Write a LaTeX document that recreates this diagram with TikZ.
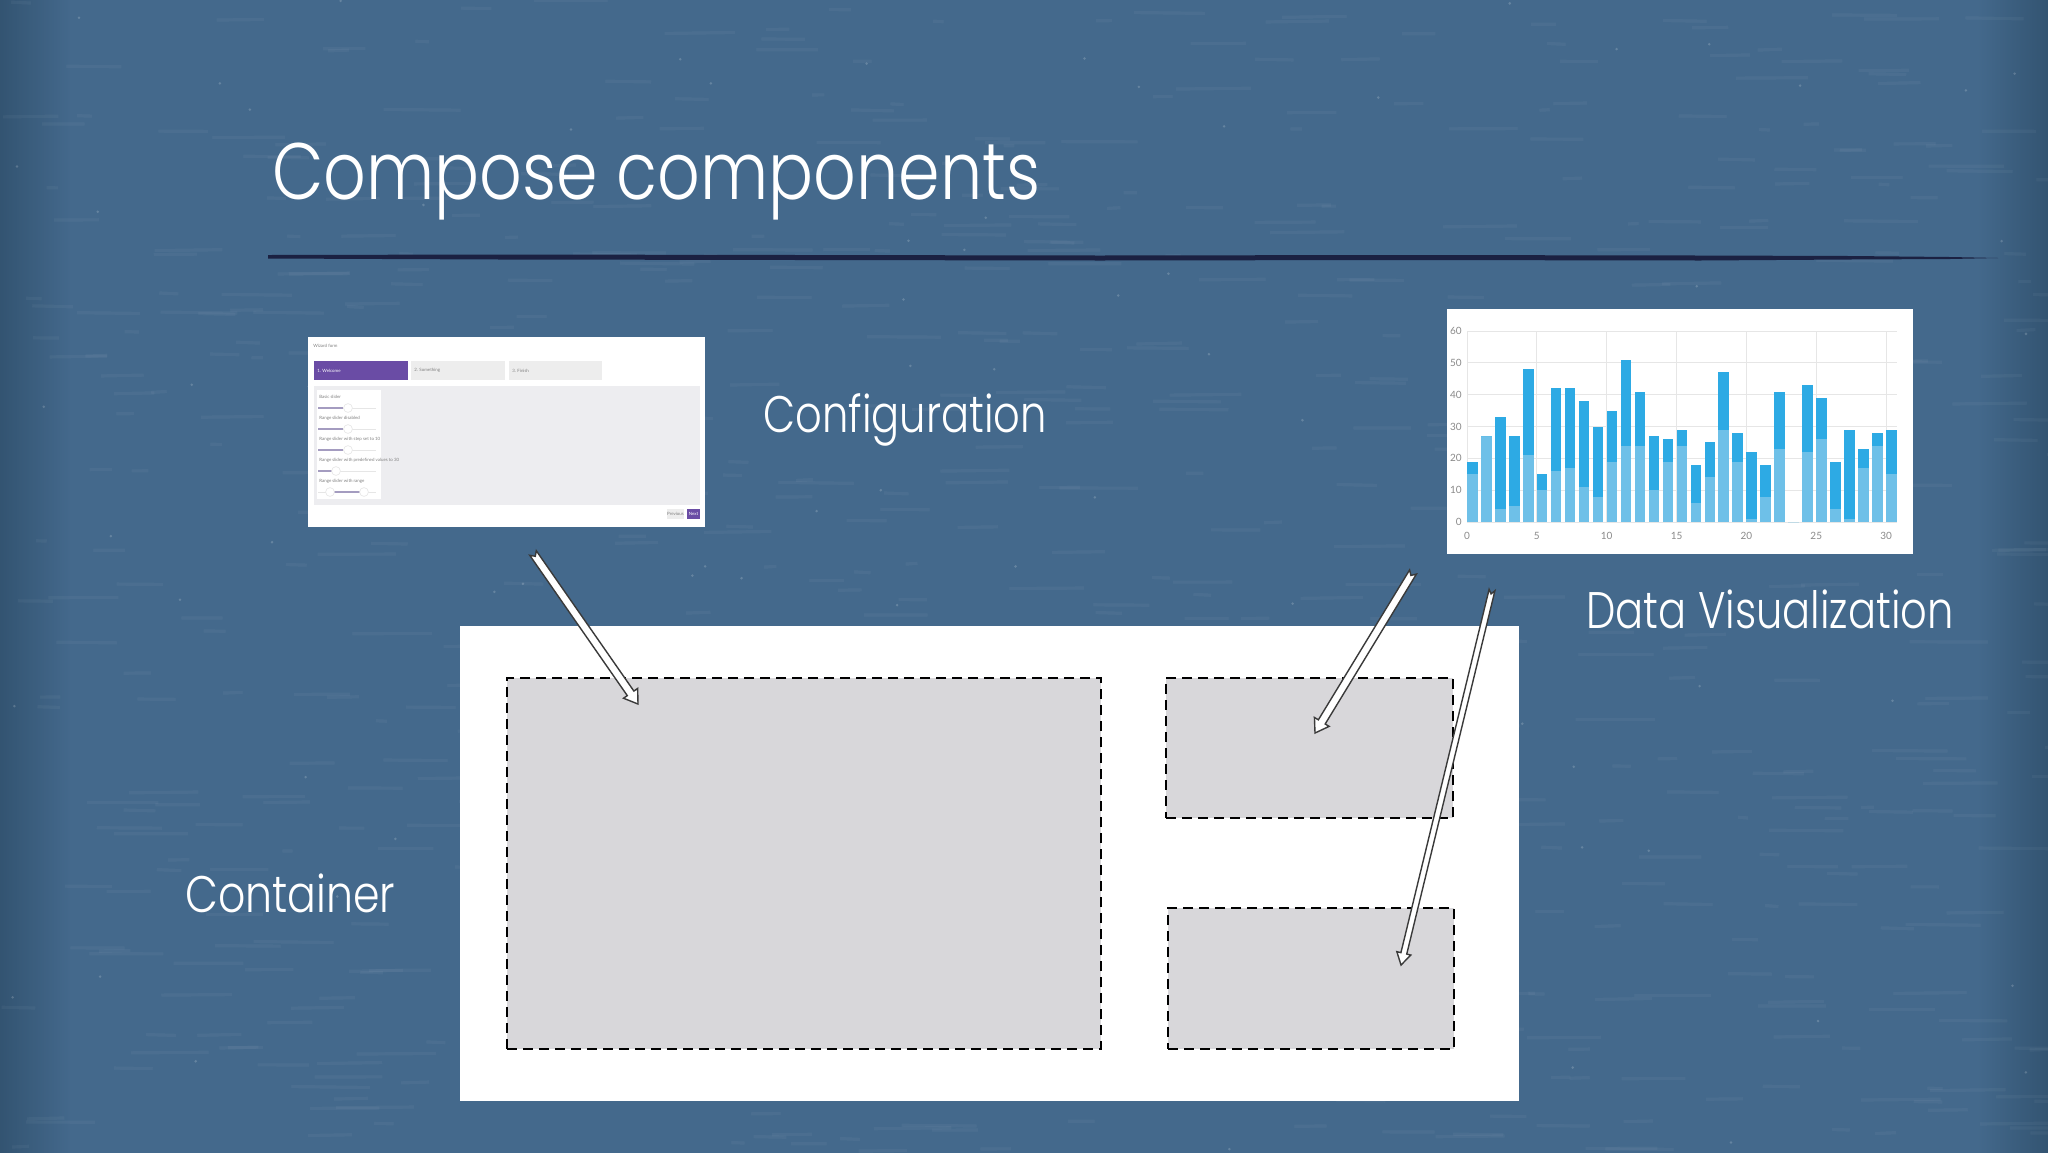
\documentclass[tikz,border=0pt]{standalone}
\usepackage{fontspec}
\usepackage{graphicx}
\setmainfont{Lato}
\newfontfamily\lightfont{Poppins Light}
\usetikzlibrary{calc,fit}

\definecolor{bg}{HTML}{44698C}
\definecolor{bgdark}{HTML}{284660}
\definecolor{navy}{HTML}{1B2142}
\definecolor{boxgray}{HTML}{D8D7DA}
\definecolor{wizpurple}{HTML}{6A4CA5}
\definecolor{tabgray}{HTML}{EDEDED}
\definecolor{panelgray}{HTML}{EDEDF0}
\definecolor{sliderfill}{HTML}{A49CC0}
\definecolor{bardark}{HTML}{2DAAE4}
\definecolor{barlight}{HTML}{6EC0E8}
\definecolor{gridgray}{HTML}{E6E6E6}
\definecolor{axisgray}{HTML}{8A8A8A}
\definecolor{arrowline}{HTML}{3A3A3A}

\pgfdeclareradialshading{vign}{\pgfpoint{0bp}{0bp}}{color(0bp)=(bg); color(40bp)=(bg); color(50bp)=(bg!75!bgdark); color(72bp)=(bgdark)}

\newcommand\hollowarrow[6]{%
  \coordinate (ah) at ($(#2)!#5!(#1)$);
  \draw[arrowbody]
    ($(#1)!#3!90:(#2)$) --
    ($(ah)!#3!90:(#2)$) --
    ($(ah)!#4!90:(#2)$) --
    (#2) --
    ($(ah)!#4!-90:(#2)$) --
    ($(ah)!#3!-90:(#2)$) --
    ($(#1)!#3!-90:(#2)$) --
    ($(#1)!#6!(#2)$) -- cycle;
}

\begin{document}
\begin{tikzpicture}[x=0.5pt,y=-0.5pt,
  bigtitle/.style={text=white, inner sep=0, font=\lightfont\fontsize{40}{44}\selectfont},
  lbl/.style={text=white, inner sep=0, font=\lightfont\fontsize{25.7}{30}\selectfont},
  dbox/.style={draw=black, line width=1.4pt, dash pattern=on 5pt off 3pt, fill=boxgray, inner sep=0, outer sep=0},
  panel/.style={fill=white, inner sep=0, outer sep=0},
  tiny/.style={inner sep=0, font=\fontsize{2.2}{2.6}\selectfont},
  axislbl/.style={inner sep=0, text=axisgray, font=\fontsize{5}{6}\selectfont},
  arrowbody/.style={fill=white, draw=arrowline, line width=0.7pt, line join=miter}
]
\path[use as bounding box] (0,0) rectangle (2048,1152);
\shade[shading=vign] (0,0) rectangle (2048,1152);
\shade[left color=bgdark, right color=bg, opacity=0.6] (0,0) rectangle (70,1152);
\shade[left color=bg, right color=bgdark, opacity=0.6] (1978,0) rectangle (2048,1152);

% chalk texture
\pgfmathsetseed{11}
\foreach \i in {1,...,700}{
  \pgfmathsetmacro\xx{rnd*2048}
  \pgfmathsetmacro\yy{rnd*1152}
  \pgfmathsetmacro\ll{10+rnd*70}
  \draw[white, opacity=0.04, line width=1.6pt] (\xx,\yy) -- ++(\ll,{rnd*2-1});
}
\foreach \i in {1,...,120}{
  \pgfmathsetmacro\xx{rnd*2048}
  \pgfmathsetmacro\yy{rnd*1152}
  \fill[white, opacity=0.18] (\xx,\yy) circle[radius=0.7pt];
}

% title and rule
\node[bigtitle, anchor=base west] (title) at (272,199) {\scalebox{0.834}[1]{Compose components}};
\fill[navy] (268,255) -- (500,254.5) -- (800,255) -- (1100,255.5) -- (1400,255) -- (1700,255.5)
  -- (1850,256) -- (1950,257) -- (1998,258) -- (1950,259) -- (1850,259.5) -- (1700,260.5)
  -- (1400,260) -- (1100,260.5) -- (800,260) -- (500,259.5) -- (268,258.5) -- cycle;

% configuration screenshot
\node[panel, fit={(308,337) (705,527)}] (cfg) {};
\node[tiny, text=gray, anchor=west] (cfgtitle) at (313,346) {Wizard form};
\fill[wizpurple] (314,361) rectangle (408,380);
\fill[tabgray] (411,361) rectangle (505,380);
\fill[tabgray] (509,361) rectangle (602,380);
\node[tiny, text=white, anchor=west] (tab1) at (317,370.5) {1. Welcome};
\node[tiny, text=gray, anchor=west] (tab2) at (414,370.5) {2. Something};
\node[tiny, text=gray, anchor=west] (tab3) at (512,370.5) {3. Finish};
\fill[panelgray] (314,386) rectangle (700,505);
\fill[white] (317,390) rectangle (381,499);
\foreach \yy/\txt/\fe/\kn [count=\k] in {397/Basic slider/343/348, 418/Range slider disabled/343/348,
   439/Range slider with step set to 10/343/348, 460/Range slider with predefined values to 30/332/336}{
  \node[tiny, text=gray, anchor=west, name=sl\k] at (319,\yy) {\txt};
  \draw[gridgray, line width=0.5pt] (318,\yy+11) -- (376,\yy+11);
  \draw[sliderfill, line width=0.9pt] (318,\yy+11) -- (\fe,\yy+11);
  \fill[white] (\kn,\yy+11) circle[radius=2.2pt];
  \draw[gridgray, line width=0.3pt] (\kn,\yy+11) circle[radius=2.2pt];
}
\node[tiny, text=gray, anchor=west] (sl5) at (319,481) {Range slider with range};
\draw[gridgray, line width=0.5pt] (318,492) -- (376,492);
\draw[sliderfill, line width=0.9pt] (330,492) -- (364,492);
\foreach \kn in {330,364}{
  \fill[white] (\kn,492) circle[radius=2.2pt];
  \draw[gridgray, line width=0.3pt] (\kn,492) circle[radius=2.2pt];
}
\fill[tabgray] (667,509) rectangle (684,519);
\fill[wizpurple] (687,509) rectangle (700,519);
\node[tiny, text=gray] (prevbtn) at (675.5,514) {Previous};
\node[tiny, text=white] (nextbtn) at (693.5,514) {Next};

% chart
\node[panel, fit={(1447,309) (1913,554)}] (chart) {};
\foreach \t in {0,10,...,60}{
  \draw[gridgray, line width=0.5pt] (1467,{522-\t*3.183}) -- (1897,{522-\t*3.183});
  \node[axislbl, anchor=east, name=yl\t] at (1462,{522-\t*3.183}) {\t};
}
\foreach \t in {0,5,...,30}{
  \draw[gridgray, line width=0.5pt] ({1467+\t*13.97},331) -- ({1467+\t*13.97},522);
  \node[axislbl, name=xl\t] at ({1467+\t*13.97},536) {\t};
}
\foreach \v/\l [count=\i from 0] in {19/15,27/27,33/4,27/5,48/21,15/10,42/16,42/17,38/11,30/8,35/19,51/24,41/24,27/10,26/19,29/24,18/6,25/14,47/29,28/19,22/1,18/8,41/23,0/0,43/22,39/26,19/4,29/1,23/17,28/24,29/15}{
  \fill[barlight] ({1467+\i*13.97},522) rectangle ({1467+\i*13.97+10.6},{522-\l*3.183});
  \fill[bardark] ({1467+\i*13.97},{522-\l*3.183}) rectangle ({1467+\i*13.97+10.6},{522-\v*3.183});
}

% labels
\node[lbl, anchor=base west] (conflbl) at (763,432) {\scalebox{0.81}[1]{Configuration}};
\node[lbl, anchor=base west] (datalbl) at (1586,628) {\scalebox{0.81}[1]{Data Visualization}};
\node[lbl, anchor=base west] (contlbl) at (185,912) {\scalebox{0.83}[1]{Container}};

% container
\node[panel, fit={(460,626) (1519,1101)}] (cont) {};
\node[dbox, fit={(507,678) (1101,1049)}] (b1) {};
\node[dbox, fit={(1166,678) (1453,818)}] (b2) {};
\node[dbox, fit={(1168,908) (1454,1049)}] (b3) {};

% arrows
\coordinate (t1) at (533,553);
\coordinate (h1) at (638,704);
\coordinate (t2) at (1413,572);
\coordinate (h2) at (1315,733);
\coordinate (t3) at (1492,590);
\coordinate (h3) at (1401,965);
\hollowarrow{t1}{h1}{2pt}{4.3pt}{6.5pt}{2pt}
\hollowarrow{t2}{h2}{2pt}{4.3pt}{6.5pt}{2pt}
\hollowarrow{t3}{h3}{1.5pt}{3.6pt}{6pt}{2pt}
\end{tikzpicture}
\end{document}
